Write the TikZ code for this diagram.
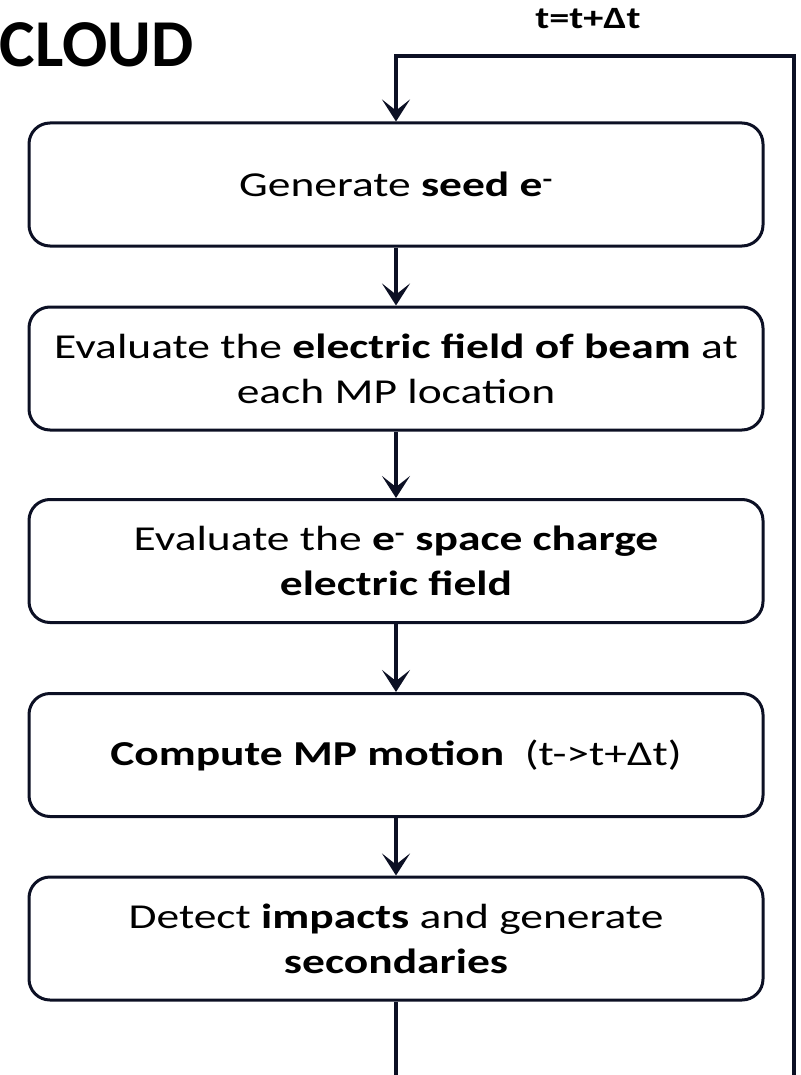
\documentclass[tikz,border=0pt]{standalone}
\usepackage{fontspec}
\setmainfont[FakeStretch=1.3]{Carlito}
\newfontfamily\titlefont{Carlito}
\usetikzlibrary{arrows.meta}
\definecolor{ink}{RGB}{12,16,36}
\begin{document}
\begin{tikzpicture}[x=1pt,y=-1pt,
  procbox/.style={draw=ink, line width=3pt, rounded corners=21pt,
    minimum width=734pt, minimum height=123pt, align=center,
    font=\fontsize{35}{45}\selectfont, inner sep=0pt},
  flow/.style={draw=ink, line width=3.4pt, -{Stealth[length=22pt,width=28pt,inset=11pt]}},
  wire/.style={draw=ink, line width=3.4pt},
  looplabel/.style={font=\bfseries\fontsize{31}{34}\selectfont, inner sep=0pt},
  titletext/.style={font=\titlefont\bfseries\fontsize{67}{72}\selectfont, inner sep=0pt}]
\useasboundingbox (0,0) rectangle (800,1075);
\node[procbox] (b1) at (396,184.5) {Generate \textbf{seed e\textsuperscript{-}}};
\node[procbox] (b2) at (396,368.5) {Evaluate the \textbf{electric field of beam} at\\each MP location};
\node[procbox] (b3) at (396,561) {Evaluate the \textbf{e\textsuperscript{-} space charge}\\\textbf{electric field}};
\node[procbox] (b4) at (396,755) {\textbf{Compute MP motion}\ \ (t->t+Δt)};
\node[procbox] (b5) at (396,938.5) {Detect \textbf{impacts} and generate\\\textbf{secondaries}};
\draw[flow] (b1) -- (b2);
\draw[flow] (b2) -- (b3);
\draw[flow] (b3) -- (b4);
\draw[flow] (b4) -- (b5);
\coordinate (exit) at (396,1075);
\coordinate (loopbot) at (794,1075);
\coordinate (looptop) at (794,56);
\draw[wire] (b5.south) -- (exit);
\draw[flow] (loopbot) -- (looptop) -| (b1.north);
\node[looplabel, anchor=base] (dt) at (588,29) {t=t+Δt};
\node[titletext, anchor=base east] (title) at (194,67) {CLOUD};
\end{tikzpicture}
\end{document}
